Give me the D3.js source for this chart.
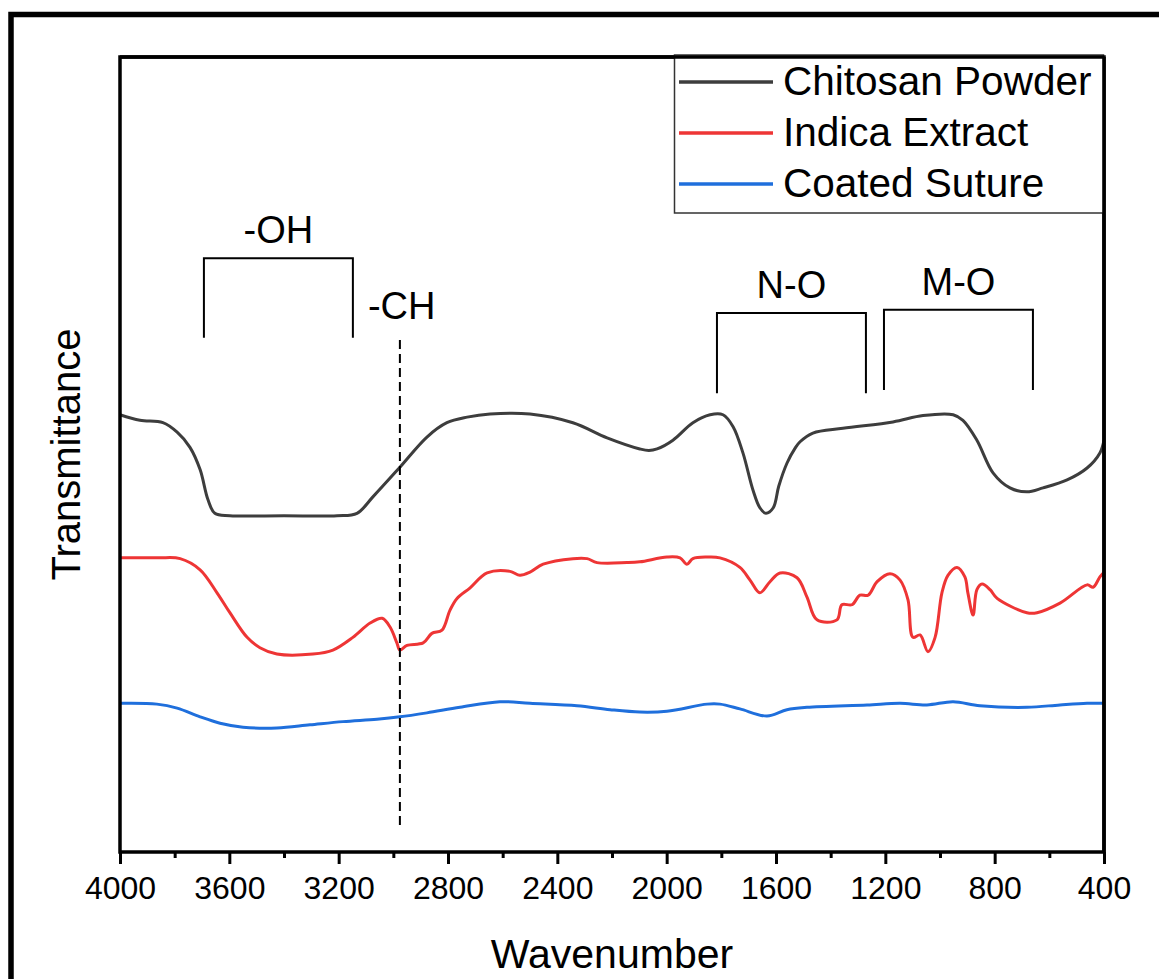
<!DOCTYPE html>
<html>
<head>
<meta charset="utf-8">
<script src="https://cdn.jsdelivr.net/npm/d3@7/dist/d3.min.js"></script>
<style>
  html, body { margin: 0; padding: 0; background: #fff; }
  svg { display: block; font-family: "Liberation Sans", Arial, sans-serif; }
</style>
</head>
<body>
<svg id="chart" width="1159" height="979"></svg>
<script>
// ---------- DATA ----------
const seriesNames = ["Chitosan Powder", "Indica Extract", "Coated Suture"];

// [wavenumber (cm-1), transmittance (a.u., offset)]
const chitosanPowder = [
  [4000,55.0],[3927,54.3],[3843,54.0],[3791,52.8],[3744,50.9],[3707,48.1],[3678,44.3],
  [3653,42.6],[3598,42.3],[3400,42.3],[3206,42.3],[3133,42.6],[3074,44.7],[2976,48.4],
  [2877,52.2],[2804,54.0],[2730,54.7],[2646,55.1],[2500,55.1],[2343,54.0],[2218,52.1],
  [2098,50.7],[2065,50.5],[2035,50.7],[1977,51.8],[1904,54.0],[1841,55.0],[1794,55.0],[1757,53.5],
  [1721,50.2],[1684,45.5],[1659,43.3],[1637,42.6],[1610,43.3],[1590,46.0],[1560,48.9],
  [1530,50.8],[1512,51.6],[1465,52.7],[1355,53.3],[1172,54.1],[1062,54.9],[952,55.0],
  [916,54.3],[865,51.8],[806,47.7],[744,45.8],[682,45.3],[623,45.8],[535,46.8],
  [462,48.3],[415,50.2],[400,51.8]
];

const indicaExtract = [
  [4000,37.0],[3860,37.0],[3780,36.9],[3707,35.5],[3645,32.6],[3598,30.1],[3535,27.0],
  [3488,25.7],[3426,24.9],[3294,24.9],[3221,25.4],[3148,27.0],[3085,28.8],[3041,29.4],
  [3012,28.3],[2987,26.3],[2976,25.4],[2950,26.0],[2891,26.3],[2859,27.5],[2822,27.9],
  [2793,30.4],[2767,31.9],[2720,33.2],[2657,35.1],[2573,35.3],[2537,34.8],[2500,35.2],
  [2452,36.2],[2343,36.9],[2291,36.9],[2255,36.4],[2145,36.4],[2098,36.5],[1999,37.1],
  [1951,37.0],[1926,36.2],[1904,36.9],[1852,37.1],[1805,37.0],[1732,35.8],[1695,34.2],
  [1659,32.6],[1622,34.0],[1585,35.1],[1523,34.5],[1487,32.1],[1450,29.2],[1377,29.2],
  [1359,31.1],[1322,31.1],[1293,32.3],[1263,32.3],[1230,34.0],[1183,35.0],[1146,34.2],
  [1117,31.7],[1099,27.0],[1073,27.3],[1044,25.2],[1018,27.0],[993,32.6],[971,34.8],
  [938,35.8],[909,34.6],[898,32.6],[879,29.8],[865,33.0],[846,33.7],[817,33.0],
  [791,31.9],[682,30.1],[645,30.1],[561,31.3],[462,33.6],[440,33.3],[415,34.6],[400,35.2]
];

const coatedSuture = [
  [4000,18.7],[3865,18.6],[3791,18.1],[3707,17.0],[3634,16.2],[3550,15.7],[3426,15.6],
  [3305,16.0],[3184,16.4],[3060,16.7],[2976,17.0],[2877,17.5],[2756,18.2],[2610,18.9],
  [2500,18.7],[2328,18.4],[2207,17.9],[2098,17.6],[1999,17.7],[1852,18.6],[1805,18.6],
  [1732,18.0],[1633,17.1],[1560,17.9],[1487,18.2],[1267,18.5],[1146,18.7],[1048,18.5],
  [952,18.9],[854,18.4],[682,18.2],[561,18.5],[462,18.7],[400,18.7]
];

const xTickValues = [4000,3600,3200,2800,2400,2000,1600,1200,800,400];
const xMinorTicks = [3800,3400,3000,2600,2200,1800,1400,1000,600];

// Band brackets: [label, left wavenumber, right wavenumber, top value, bottom value]
const bands = [
  ["-OH", 3693, 3148, 74.7, 64.7],
  ["N-O", 1816, 1271, 67.8, 57.7],
  ["M-O", 1205, 660, 68.2, 58.1]
];
const chLine = { label: "-CH", wavenumber: 2976, top: 64.4, bottom: 3.0 };

// ---------- LAYOUT ----------
const svg = d3.select("#chart");
const L = 120, R = 1104, T = 57, B = 852;
const colors = ["#3d3d3d", "#ee3535", "#1f6fdc"];

const x = d3.scaleLinear().domain([4000, 400]).range([L, R]);
const y = d3.scaleLinear().domain([0, 100]).range([B, T]);

// outer frame
svg.append("rect").attr("x", 11).attr("y", 14.5).attr("width", 1300).attr("height", 1200)
  .attr("fill", "none").attr("stroke", "#000").attr("stroke-width", 5.5);

// curves
const line = d3.line().x(d => x(d[0])).y(d => y(d[1])).curve(d3.curveCatmullRom.alpha(0.5));
const allSeries = [chitosanPowder, indicaExtract, coatedSuture];
allSeries.forEach((s, i) => {
  svg.append("path").datum(s).attr("d", line)
    .attr("fill", "none").attr("stroke", colors[i]).attr("stroke-width", 3)
    .attr("stroke-linejoin", "round");
});

// bracket annotations
bands.forEach(b => {
  const x1 = x(b[1]), x2 = x(b[2]), yt = y(b[3]), yb = y(b[4]);
  svg.append("path")
    .attr("d", `M${x1},${yb}V${yt}H${x2}V${yb}`)
    .attr("fill", "none").attr("stroke", "#000").attr("stroke-width", 2);
  svg.append("text").attr("x", (x1 + x2) / 2).attr("y", yt - 15)
    .attr("text-anchor", "middle").attr("font-size", 38).attr("fill", "#000")
    .text(b[0]);
});
// -CH dashed line
svg.append("line")
  .attr("x1", x(chLine.wavenumber)).attr("x2", x(chLine.wavenumber))
  .attr("y1", y(chLine.top)).attr("y2", y(chLine.bottom))
  .attr("stroke", "#000").attr("stroke-width", 2).attr("stroke-dasharray", "9,5");
svg.append("text").attr("x", x(chLine.wavenumber) - 32).attr("y", y(chLine.top) - 21)
  .attr("font-size", 38).attr("fill", "#000").text(chLine.label);

// x axis
const xAxis = d3.axisBottom(x).tickValues(xTickValues).tickSize(12).tickPadding(12)
  .tickFormat(d3.format("d"));
const gx = svg.append("g").attr("transform", `translate(0,${B})`).call(xAxis);
gx.select(".domain").remove();
gx.selectAll(".tick line").attr("stroke", "#000").attr("stroke-width", 3);
gx.selectAll(".tick text").attr("font-size", 32).attr("fill", "#000")
  .attr("font-family", "'Liberation Sans', Arial, sans-serif");
const xMinor = d3.axisBottom(x).tickValues(xMinorTicks).tickSize(6).tickFormat("");
const gxm = svg.append("g").attr("transform", `translate(0,${B})`).call(xMinor);
gxm.select(".domain").remove();
gxm.selectAll(".tick line").attr("stroke", "#000").attr("stroke-width", 3);

// plot frame
svg.append("rect").attr("x", L).attr("y", T).attr("width", R - L).attr("height", B - T)
  .attr("fill", "none").attr("stroke", "#000").attr("stroke-width", 3.5);

// axis titles
svg.append("text").attr("x", (L + R) / 2).attr("y", 968).attr("text-anchor", "middle")
  .attr("font-size", 41).attr("fill", "#000").text("Wavenumber");
svg.append("text").attr("transform", `translate(80,${(T + B) / 2}) rotate(-90)`)
  .attr("text-anchor", "middle").attr("font-size", 40).attr("fill", "#000")
  .text("Transmittance");

// legend
const lg = svg.append("g");
lg.append("rect").attr("x", 674.5).attr("y", 55).attr("width", 429).attr("height", 158)
  .attr("fill", "#fff").attr("stroke", "#333").attr("stroke-width", 1.5);
seriesNames.forEach((name, i) => {
  const yy = 82 + i * 51;
  lg.append("line").attr("x1", 679).attr("x2", 773).attr("y1", yy).attr("y2", yy)
    .attr("stroke", colors[i]).attr("stroke-width", 3.5);
  lg.append("text").attr("x", 783).attr("y", yy + 13).attr("font-size", 40.5)
    .attr("fill", "#000").text(name);
});
// redraw right/top frame edges over legend
svg.append("line").attr("x1", R).attr("x2", R).attr("y1", T).attr("y2", B)
  .attr("stroke", "#000").attr("stroke-width", 3.5);
svg.append("line").attr("x1", L).attr("x2", R).attr("y1", T).attr("y2", T)
  .attr("stroke", "#000").attr("stroke-width", 3.5);
</script>
</body>
</html>
